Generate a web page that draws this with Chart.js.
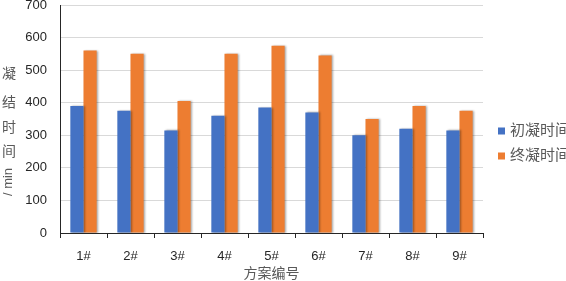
<!DOCTYPE html>
<html>
<head>
<meta charset="utf-8">
<script src="https://cdn.jsdelivr.net/npm/chart.js@4.4.0/dist/chart.umd.min.js"></script>
<style>
  html, body { margin: 0; padding: 0; background: #fff; }
  #wrap { width: 566px; height: 281px; }
</style>
</head>
<body>
<div id="wrap"><canvas id="myChart"></canvas></div>
<script>
let schemes = ['1#', '2#', '3#', '4#', '5#', '6#', '7#', '8#', '9#'];
let initialSet = [390, 375, 315, 360, 385, 370, 300, 320, 315];
let finalSet = [560, 550, 405, 550, 575, 545, 350, 390, 375];
let seriesNames = ['初凝时间', '终凝时间'];
let yTicks = [0, 100, 200, 300, 400, 500, 600, 700];

const serifFont = "'Liberation Serif', 'Noto Sans CJK SC', serif";
const greyText = '#595959';

// bar shadows, y title and legend are drawn by hand
const extras = {
    id: 'extras',
    beforeDatasetsDraw(chart) {
        const ctx = chart.ctx;
        ctx.save();
        ctx.shadowColor = 'rgba(0,0,0,0.35)';
        ctx.shadowOffsetX = 1.5;
        ctx.shadowOffsetY = 0;
        ctx.shadowBlur = 2;
    },
    afterDatasetsDraw(chart) {
        chart.ctx.restore();
    },
    afterDraw(chart) {
        const ctx = chart.ctx;
        ctx.save();
        ctx.fillStyle = greyText;
        ctx.font = '14px ' + serifFont;
        ctx.textAlign = 'center';
        ctx.textBaseline = 'middle';
        const chars = ['凝', '结', '时', '间'];
        const ys = [74, 103, 128, 152];
        chars.forEach((c, i) => ctx.fillText(c, 9, ys[i]));
        ctx.translate(8, 182);
        ctx.rotate(-Math.PI / 2);
        ctx.font = "13px 'Liberation Sans', sans-serif";
        ctx.fillText('/ min', 0, 0);
        ctx.restore();

        // legend
        ctx.save();
        ctx.font = '15px ' + serifFont;
        ctx.textBaseline = 'middle';
        chart.data.datasets.forEach((ds, i) => {
            const y = 131 + i * 25;
            ctx.fillStyle = ds.backgroundColor;
            ctx.fillRect(498, y - 3.5, 7, 7);
            ctx.fillStyle = greyText;
            ctx.fillText(ds.label, 510, y);
        });
        ctx.restore();
    }
};

let ctx = document.getElementById('myChart').getContext('2d');
let myChart = new Chart(ctx, {
    type: 'bar',
    data: {
        labels: schemes,
        datasets: [{
            label: seriesNames[0],
            data: initialSet,
            backgroundColor: '#4472C4',
            barPercentage: 1,
            categoryPercentage: 0.56
        }, {
            label: seriesNames[1],
            data: finalSet,
            backgroundColor: '#ED7D31',
            barPercentage: 1,
            categoryPercentage: 0.56
        }]
    },
    options: {
        responsive: true,
        maintainAspectRatio: false,
        animation: false,
        layout: {
            padding: { left: 0, right: 83, top: 0, bottom: 0 }
        },
        plugins: {
            legend: { display: false },
            tooltip: { enabled: false }
        },
        scales: {
            x: {
                grid: {
                    offset: true,
                    drawOnChartArea: false,
                    drawTicks: true,
                    tickLength: 5,
                    color: '#262626'
                },
                border: { display: true, color: '#262626', width: 1 },
                ticks: {
                    color: '#262626',
                    font: { family: "'Liberation Sans', sans-serif", size: 13 },
                    padding: 11
                },
                title: {
                    display: true,
                    text: '方案编号',
                    color: greyText,
                    font: { family: serifFont, size: 14 },
                    padding: { top: 0, bottom: -2 }
                },
                afterFit(scale) { scale.height = 48; }
            },
            y: {
                min: 0,
                max: 700,
                afterBuildTicks(scale) {
                    scale.ticks = yTicks.map(v => ({ value: v }));
                },
                grid: {
                    color: '#d9d9d9',
                    drawTicks: false
                },
                border: { display: true, color: '#262626', width: 1 },
                ticks: {
                    color: '#262626',
                    font: { family: "'Liberation Sans', sans-serif", size: 13 },
                    padding: 13
                },
                afterFit(scale) {
                    scale.width = 60;
                    scale.paddingTop = 5;
                    scale.paddingBottom = 5;
                }
            }
        }
    },
    plugins: [extras]
});
</script>
</body>
</html>
